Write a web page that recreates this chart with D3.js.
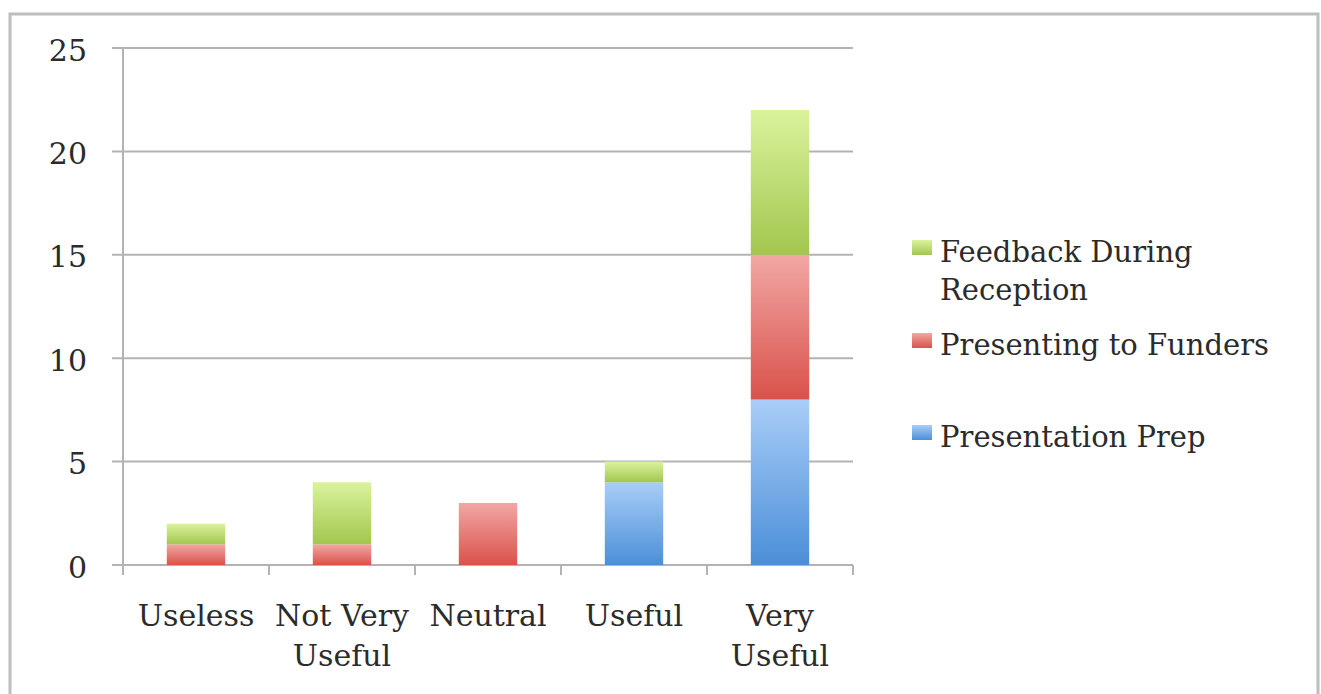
<!DOCTYPE html>
<html>
<head>
<meta charset="utf-8">
<script src="https://cdn.jsdelivr.net/npm/d3@7"></script>
<style>
  html, body { margin: 0; padding: 0; background: #fff; }
  svg { display: block; }
  text { font-family: "DejaVu Serif", "Liberation Serif", serif; fill: #2b2b2b; }
</style>
</head>
<body>
<svg id="chart" width="1321" height="694"></svg>
<script>
// Survey responses: how useful each activity was rated
const categories = ["Useless", "Not Very Useful", "Neutral", "Useful", "Very Useful"];
const categoryLines = [["Useless"], ["Not Very", "Useful"], ["Neutral"], ["Useful"], ["Very", "Useful"]];
const seriesNames = ["Presentation Prep", "Presenting to Funders", "Feedback During Reception"];
const presentationPrep = [0, 0, 0, 4, 8];
const presentingToFunders = [1, 1, 3, 0, 7];
const feedbackDuringReception = [1, 3, 0, 1, 7];
const yTicks = [0, 5, 10, 15, 20, 25];

const seriesColors = [
  { top: "#a9cdf8", bottom: "#4b8fd8" },
  { top: "#f2a7a5", bottom: "#d9524a" },
  { top: "#daf39c", bottom: "#a2c64f" }
];

const rows = categories.map((c, i) => ({
  category: c,
  "Presentation Prep": presentationPrep[i],
  "Presenting to Funders": presentingToFunders[i],
  "Feedback During Reception": feedbackDuringReception[i]
}));

const svg = d3.select("#chart");

// outer frame
svg.append("path")
  .attr("d", "M10,700 V14 H1318 V700")
  .attr("fill", "none").attr("stroke", "#bdbdbd").attr("stroke-width", 3);

const plot = { left: 123, right: 853, top: 48, bottom: 565 };

const x = d3.scaleBand().domain(categories).range([plot.left, plot.right]).paddingInner(0.6).paddingOuter(0.3);
const band = d3.scaleBand().domain(categories).range([plot.left, plot.right]);
const y = d3.scaleLinear().domain([0, 25]).range([plot.bottom, plot.top]);

// gradients
const defs = svg.append("defs");
seriesColors.forEach((c, i) => {
  const g = defs.append("linearGradient").attr("id", "grad" + i)
    .attr("x1", 0).attr("y1", 0).attr("x2", 0).attr("y2", 1);
  g.append("stop").attr("offset", "0%").attr("stop-color", c.top);
  g.append("stop").attr("offset", "100%").attr("stop-color", c.bottom);
});

// horizontal gridlines
svg.append("g").selectAll("line").data(yTicks).join("line")
  .attr("x1", plot.left - 11).attr("x2", plot.right)
  .attr("y1", d => y(d)).attr("y2", d => y(d))
  .attr("stroke", "#b3b3b3").attr("stroke-width", 2);

// y axis line
svg.append("line")
  .attr("x1", plot.left).attr("x2", plot.left).attr("y1", plot.top).attr("y2", plot.bottom + 10)
  .attr("stroke", "#b3b3b3").attr("stroke-width", 2);

// category boundary ticks
const boundaries = categories.map(c => band(c) + band.bandwidth()).concat([plot.left]);
svg.append("g").selectAll("line").data(boundaries).join("line")
  .attr("x1", d => d).attr("x2", d => d)
  .attr("y1", plot.bottom).attr("y2", plot.bottom + 10)
  .attr("stroke", "#b3b3b3").attr("stroke-width", 2);

// y tick labels
svg.append("g").selectAll("text").data(yTicks).join("text")
  .attr("x", plot.left - 36).attr("y", d => y(d))
  .attr("dy", "0.42em")
  .attr("text-anchor", "end")
  .attr("font-size", 30)
  .text(d => d);

// stacked bars
const stack = d3.stack().keys(seriesNames);
const stacked = stack(rows);
svg.append("g").selectAll("g").data(stacked).join("g")
  .attr("fill", (d, i) => `url(#grad${i})`)
  .selectAll("rect").data(d => d.filter(s => s[1] - s[0] > 0)).join("rect")
  .attr("x", d => x(d.data.category))
  .attr("width", x.bandwidth())
  .attr("y", d => y(d[1]))
  .attr("height", d => y(d[0]) - y(d[1]));

// category labels
const xl = svg.append("g").selectAll("text").data(categories).join("text")
  .attr("x", d => band(d) + band.bandwidth() / 2)
  .attr("y", 626)
  .attr("text-anchor", "middle")
  .attr("font-size", 30);
xl.each(function(d, i) {
  const t = d3.select(this);
  categoryLines[i].forEach((line, j) => {
    t.append("tspan").attr("x", band(d) + band.bandwidth() / 2)
      .attr("dy", j === 0 ? 0 : 40).text(line);
  });
});

// legend (top to bottom: reverse series order)
const legendItems = [
  { idx: 2, lines: ["Feedback During", "Reception"], y: 262 },
  { idx: 1, lines: ["Presenting to Funders"], y: 355 },
  { idx: 0, lines: ["Presentation Prep"], y: 447 }
];
const lg = svg.append("g");
legendItems.forEach(item => {
  lg.append("rect")
    .attr("x", 912).attr("y", item.y - 22).attr("width", 20).attr("height", 15)
    .attr("fill", `url(#grad${item.idx})`);
  const t = lg.append("text").attr("x", 940).attr("y", item.y).attr("font-size", 29);
  item.lines.forEach((line, j) => {
    t.append("tspan").attr("x", 940).attr("dy", j === 0 ? 0 : 38).text(line);
  });
});
</script>
</body>
</html>
